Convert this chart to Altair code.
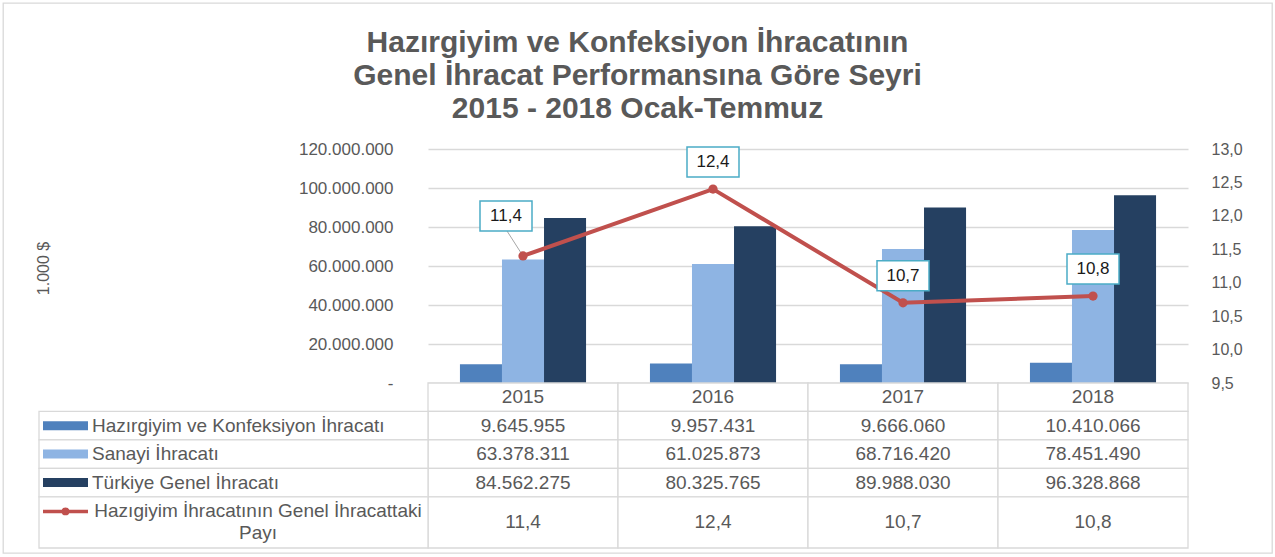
import altair as alt
import pandas as pd

# ---------------- data ----------------
YEARS = ["2015", "2016", "2017", "2018"]
GARMENT = [9645955, 9957431, 9666060, 10410066]
INDUSTRY = [63378311, 61025873, 68716420, 78451490]
TOTAL = [84562275, 80325765, 89988030, 96328868]
SHARE = [11.4, 12.4, 10.7, 10.8]

BAR_SERIES = ["Hazırgiyim ve Konfeksiyon İhracatı", "Sanayi İhracatı", "Türkiye Genel İhracatı"]
LINE_SERIES = "Hazıgiyim İhracatının Genel İhracattaki\nPayı"
TITLE_LINES = ["Hazırgiyim ve Konfeksiyon İhracatının",
               "Genel İhracat Performansına Göre Seyri",
               "2015 - 2018 Ocak-Temmuz"]
Y_LEFT_TITLE = "1.000 $"
LEFT_TICKS = [0, 20000000, 40000000, 60000000, 80000000, 100000000, 120000000]
RIGHT_TICKS = [9.5, 10.0, 10.5, 11.0, 11.5, 12.0, 12.5, 13.0]

# ---------------- style ----------------
FONT = "Liberation Sans"
BAR_COLORS = ["#4F81BD", "#8EB4E3", "#254061"]
LINE_COLOR = "#C0504D"
BOX_COLOR = "#4BACC6"
GRID = "#D9D9D9"
TEXT = "#595959"
BOX_PATH = "M-1,-0.577H1V0.577H-1Z"

# layout (pixels inside the framed plot area)
W, H = 1269, 550
X0, X1 = 425, 1185          # year columns
TBL_LEFT = 36               # left edge of the table
Y_BASE, Y_TOP, Y_END = 380, 146, 545
LINE_H = 22                 # line height of wrapped row labels

# ---------------- tables ----------------
bars_df = pd.DataFrame([
    {"year": y, "series": s, "value": v}
    for s, vals in zip(BAR_SERIES, [GARMENT, INDUSTRY, TOTAL])
    for y, v in zip(YEARS, vals)
])
line_df = pd.DataFrame({"year": YEARS, "share": SHARE})

ROW_LABELS = BAR_SERIES + [LINE_SERIES]
ROW_VALUES = [GARMENT, INDUSTRY, TOTAL, SHARE]
ROW_KIND = ["bar", "bar", "bar", "line"]
n_lines = [lab.count("\n") + 1 for lab in ROW_LABELS]
heights = [1.0] + [1 + 0.8 * (n - 1) for n in n_lines]
bounds = [0.0]
for h in heights:
    bounds.append(bounds[-1] + h)

rows_df = pd.DataFrame({
    "label": ROW_LABELS,
    "kind": ROW_KIND,
    "lines": n_lines,
    "y0": bounds[1:-1],
    "y1": bounds[2:],
})
cells_df = pd.DataFrame([
    {"year": y, "value": v, "kind": ROW_KIND[i], "y0": bounds[i + 1], "y1": bounds[i + 2]}
    for i, vals in enumerate(ROW_VALUES)
    for y, v in zip(YEARS, vals)
])
header_df = pd.DataFrame({"year": YEARS, "y0": [bounds[0]] * 4, "y1": [bounds[1]] * 4})


def xband():
    return alt.X("year:N", scale=alt.Scale(type="band", domain=YEARS, range=[X0, X1],
                                           paddingInner=0, paddingOuter=0), axis=None)


def ytab(field):
    return alt.Y(field, type="quantitative",
                 scale=alt.Scale(domain=[bounds[0], bounds[-1]], range=[Y_BASE, Y_END],
                                 nice=False, zero=False), axis=None)


# ---------------- bars ----------------
bars = alt.Chart(bars_df).mark_bar().encode(
    x=xband(),
    xOffset=alt.XOffset("series:N", scale=alt.Scale(domain=BAR_SERIES, paddingInner=0, paddingOuter=0.76)),
    y=alt.Y("value:Q",
            scale=alt.Scale(domain=[0, 120000000], range=[Y_BASE, Y_TOP], nice=False),
            axis=alt.Axis(orient="left", offset=-X0, values=LEFT_TICKS, format=",.0f",
                          labelExpr="datum.value == 0 ? '-' : datum.label",
                          labelFont=FONT, labelFontSize=17, labelColor=TEXT, labelPadding=35,
                          ticks=False, tickSize=0, domain=False,
                          grid=True, gridColor=GRID, gridWidth=1.3,
                          title=Y_LEFT_TITLE, titleFont=FONT, titleFontSize=16,
                          titleFontWeight="normal", titleColor=TEXT,
                          titleX=43 - 428, titleY=268 - 3, titleAlign="center",
                          titleBaseline="middle")),
    color=alt.Color("series:N", scale=alt.Scale(domain=BAR_SERIES, range=BAR_COLORS), legend=None),
)

# ---------------- line ----------------
lbase = alt.Chart(line_df).encode(
    x=xband(),
    y=alt.Y("share:Q",
            scale=alt.Scale(domain=[9.5, 13.0], range=[Y_BASE, Y_TOP], nice=False, zero=False),
            axis=alt.Axis(orient="right", offset=-(W - X1), values=RIGHT_TICKS, format=".1f",
                          labelFont=FONT, labelFontSize=16, labelColor=TEXT, labelPadding=23,
                          ticks=False, tickSize=0, domain=False, grid=False, title=None)),
)
leader = lbase.transform_filter("datum.year == '2015'").mark_rule(
    color="#A6A6A6", strokeWidth=1, x2Offset=-16, y2Offset=-25
).encode(x2="year:N", y2="share:Q")
line = lbase.mark_line(color=LINE_COLOR, strokeWidth=4)
pts = lbase.mark_circle(color=LINE_COLOR, size=85, opacity=1)

box_kw = dict(shape=BOX_PATH, size=2704, filled=True, fill="white", stroke=BOX_COLOR,
              strokeWidth=1.5, opacity=1)
txt_kw = dict(font=FONT, fontSize=17, color="#1A1A1A")
main_f = "datum.year != '2015'"
side_f = "datum.year == '2015'"
boxes_a = lbase.transform_filter(main_f).mark_point(yOffset=-27, **box_kw)
texts_a = lbase.transform_filter(main_f).mark_text(yOffset=-27, **txt_kw).encode(
    text=alt.Text("share:Q", format=".1f"))
boxes_b = lbase.transform_filter(side_f).mark_point(xOffset=-17, yOffset=-40, **box_kw)
texts_b = lbase.transform_filter(side_f).mark_text(xOffset=-17, yOffset=-40, **txt_kw).encode(
    text=alt.Text("share:Q", format=".1f"))

line_group = alt.layer(leader, line, pts, boxes_a, texts_a, boxes_b, texts_b)

# ---------------- table ----------------
cell_kw = dict(fill="white", stroke=GRID, strokeWidth=1.3)
tfont = dict(font=FONT, fontSize=19, color=TEXT)

head_cells = alt.Chart(header_df).mark_rect(**cell_kw).encode(x=xband(), y=ytab("y0"), y2="y1:Q")
head_text = alt.Chart(header_df).transform_calculate(ym="(datum.y0 + datum.y1) / 2").mark_text(
    **tfont).encode(x=xband(), y=ytab("ym"), text="year:N")
body_cells = alt.Chart(cells_df).mark_rect(**cell_kw).encode(x=xband(), y=ytab("y0"), y2="y1:Q")
num_text = alt.Chart(cells_df).transform_filter("datum.kind == 'bar'").transform_calculate(
    ym="(datum.y0 + datum.y1) / 2").mark_text(**tfont).encode(
    x=xband(), y=ytab("ym"), text=alt.Text("value:Q", format=",.0f"))
share_text = alt.Chart(cells_df).transform_filter("datum.kind == 'line'").transform_calculate(
    ym="(datum.y0 + datum.y1) / 2").mark_text(**tfont).encode(
    x=xband(), y=ytab("ym"), text=alt.Text("value:Q", format=".1f"))
table_years = alt.layer(head_cells, body_cells, head_text, num_text, share_text)

xlab = alt.X("xa:Q", scale=alt.Scale(domain=[0, 1], range=[TBL_LEFT, X0], nice=False, zero=False),
             axis=None)
lbase_t = alt.Chart(rows_df).transform_calculate(
    xa="0", xb="1", ym="(datum.y0 + datum.y1) / 2")
lab_cells = lbase_t.mark_rect(**cell_kw).encode(x=xlab, x2="xb:Q", y=ytab("y0"), y2="y1:Q")
sw_bar = lbase_t.transform_filter("datum.kind == 'bar'").mark_rule(
    strokeWidth=9, xOffset=4, x2Offset=49).encode(
    x=xlab, x2="xa:Q", y=ytab("ym"),
    color=alt.Color("label:N", scale=alt.Scale(domain=BAR_SERIES, range=BAR_COLORS), legend=None))
sw_line = lbase_t.transform_filter("datum.kind == 'line'").mark_rule(
    strokeWidth=3.5, color=LINE_COLOR, xOffset=4, x2Offset=49, yOffset=-LINE_H / 2).encode(
    x=xlab, x2="xa:Q", y=ytab("ym"))
sw_pt = lbase_t.transform_filter("datum.kind == 'line'").mark_circle(
    size=60, color=LINE_COLOR, opacity=1, xOffset=26.5, yOffset=-LINE_H / 2).encode(x=xlab, y=ytab("ym"))
lab_text1 = lbase_t.transform_filter("datum.lines == 1").mark_text(
    align="left", dx=53, **tfont).encode(x=xlab, y=ytab("ym"), text="label:N")
lab_text2 = lbase_t.transform_filter("datum.lines > 1").mark_text(
    align="center", dx=219, dy=-LINE_H / 2, lineBreak="\n", lineHeight=LINE_H, **tfont).encode(
    x=xlab, y=ytab("ym"), text="label:N")
table_labels = alt.layer(lab_cells, sw_bar, sw_line, sw_pt, lab_text1, lab_text2)

table = alt.layer(table_years, table_labels).resolve_scale(x="independent")

chart = alt.layer(bars, line_group, table).resolve_scale(
    x="independent", y="independent"
).properties(
    width=W, height=H,
    padding={"left": 3, "top": 3, "right": 3, "bottom": 4},
    background="white",
    title=alt.TitleParams(text=TITLE_LINES, font=FONT, fontSize=30, fontWeight="bold",
                          color=TEXT, anchor="middle", offset=-121, lineHeight=33),
).configure(
    locale={"number": {"decimal": ",", "thousands": ".", "grouping": [3], "currency": ["", ""]}},
).configure_view(stroke=GRID, strokeWidth=1.3)

chart.save("out.html", embed_options={"renderer": "svg", "actions": False})
